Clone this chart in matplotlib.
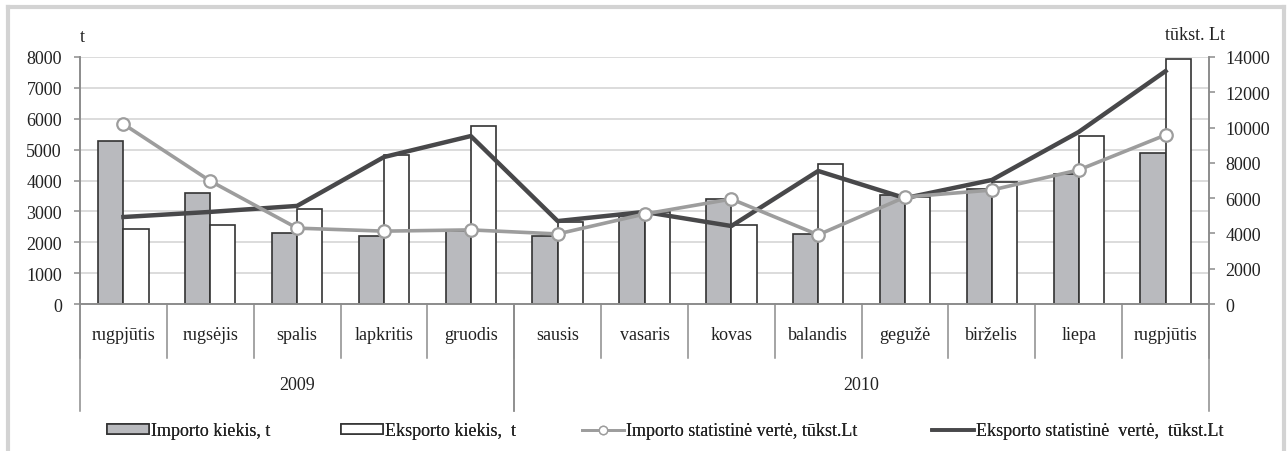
import matplotlib.pyplot as plt
from matplotlib.lines import Line2D
from matplotlib.patches import Patch
import numpy as np

plt.rcParams['font.family'] = ['Liberation Serif', 'DejaVu Serif']
plt.rcParams['font.size'] = 13

menesiai = ['rugpjūtis', 'rugsėjis', 'spalis', 'lapkritis', 'gruodis', 'sausis', 'vasaris',
            'kovas', 'balandis', 'gegužė', 'birželis', 'liepa', 'rugpjūtis']
metai = ['2009', '2010']
metu_ribos = [(-0.5, 4.5), (4.5, 12.5)]

importo_kiekis = [5270, 3590, 2300, 2200, 2380, 2200, 2850, 3400, 2260, 3530, 3720, 4200, 4890]
eksporto_kiekis = [2420, 2560, 3070, 4820, 5760, 2650, 2980, 2560, 4530, 3480, 3950, 5440, 7950]
importo_verte = [10200, 6970, 4300, 4130, 4200, 3970, 5100, 5950, 3920, 6060, 6460, 7600, 9580]
eksporto_verte = [4930, 5220, 5560, 8330, 9520, 4700, 5220, 4420, 7540, 6000, 7030, 9750, 13200]

W, H = 1287, 452
fig = plt.figure(figsize=(W / 100, H / 100), dpi=100)
x0, x1, ytop, ybot = 80, 1209, 58, 305
ax = fig.add_axes([x0 / W, (H - ybot) / H, (x1 - x0) / W, (ybot - ytop) / H])
ax2 = ax.twinx()

tekstas = '#222222'
asis = '#8c8c8c'
x = np.arange(len(menesiai))
w = 0.29
ax.bar(x - w / 2, importo_kiekis, w, color='#b9babe', edgecolor='#333333', linewidth=1.2, zorder=2)
ax.bar(x + w / 2, eksporto_kiekis, w, color='white', edgecolor='#333333', linewidth=1.2, zorder=2)

ax2.plot(x, eksporto_verte, color='#48484a', lw=3.2, zorder=3)
ax2.plot(x, importo_verte, color='#9d9d9d', lw=2.6, marker='o', ms=9,
         mfc='white', mec='#9d9d9d', mew=1.6, zorder=4)

ax.set_xlim(-0.5, 12.5)
ax.set_ylim(0, 8000)
ax2.set_ylim(0, 14000)
ax.set_yticks(range(0, 8001, 1000))
ax2.set_yticks(range(0, 14001, 2000))
ax.yaxis.grid(True, color='#d9d9d9', lw=1.3, zorder=0)
ax.set_axisbelow(True)
ax.set_xticks([])

for a in (ax, ax2):
    for s in a.spines.values():
        s.set_color(asis)
        s.set_linewidth(1.2)
    a.spines['top'].set_visible(False)
    a.tick_params(axis='y', length=4, width=1.1, color=asis, labelcolor=tekstas, labelsize=13)
ax.tick_params(axis='y', pad=9)
ax2.tick_params(axis='y', pad=8)

tr = ax.get_xaxis_transform()
h = ybot - ytop
def ay(py):
    return (ybot - py) / h

for i, m in enumerate(menesiai):
    ax.text(i, ay(335), m, transform=tr, ha='center', va='center', color=tekstas, fontsize=13)
for i in range(len(menesiai) + 1):
    ax.add_line(Line2D([i - 0.5, i - 0.5], [0, ay(359)], transform=tr, color=asis, lw=1.1, clip_on=False))
for (a, b), m in zip(metu_ribos, metai):
    ax.text((a + b) / 2, ay(386), m, transform=tr, ha='center', va='center', color=tekstas, fontsize=13)
    for xx in (a, b):
        ax.add_line(Line2D([xx, xx], [0, ay(412)], transform=tr, color=asis, lw=1.1, clip_on=False))

fig.text(80 / W, 1 - 38 / H, 't', ha='left', va='center', color=tekstas, fontsize=13)
fig.text(1195 / W, 1 - 35 / H, 'tūkst. Lt', ha='center', va='center', color=tekstas, fontsize=13)

# legenda - kiekvienas elementas atskirai
legendos = [
    (107, Patch(facecolor='#b9babe', edgecolor='#333333', lw=1.2), 'Importo kiekis, t'),
    (341, Patch(facecolor='white', edgecolor='#333333', lw=1.2), 'Eksporto kiekis,  t'),
    (582, Line2D([], [], color='#9d9d9d', lw=2.0, marker='o', ms=6, mfc='white', mec='#9d9d9d'),
     'Importo statistinė vertė, tūkst.Lt'),
    (932, Line2D([], [], color='#48484a', lw=2.6), 'Eksporto statistinė  vertė,  tūkst.Lt'),
]
for px, hnd, lbl in legendos:
    lg = fig.legend([hnd], [lbl], loc='center left', bbox_to_anchor=(px / W, 1 - 432 / H),
                    frameon=False, handlelength=2.3, handleheight=0.45, handletextpad=0.12,
                    borderpad=0, borderaxespad=0, fontsize=13, labelcolor=tekstas)
    fig.add_artist(lg)

# pilkas rėmelis aplink
ramas = '#d3d3d3'
for xs, ys in [([8, 1284], [8, 8]), ([8, 8], [8, 452]), ([1284, 1284], [8, 452])]:
    fig.add_artist(Line2D([v / W for v in xs], [1 - v / H for v in ys], color=ramas, lw=3))

fig.savefig('out.png', dpi=100)
